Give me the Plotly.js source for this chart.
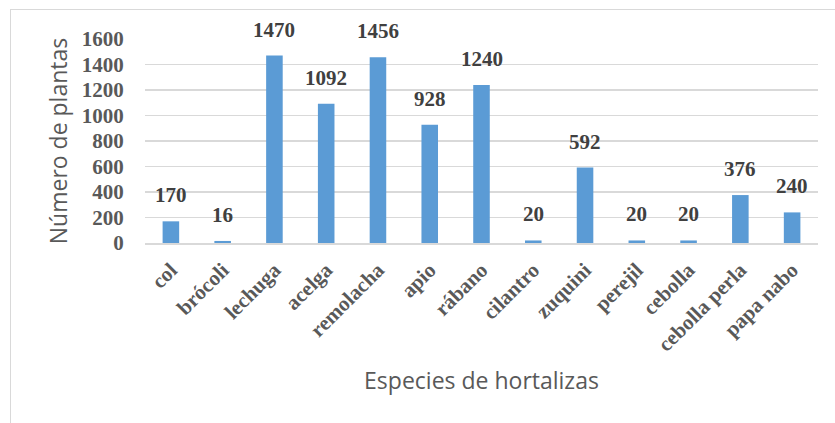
<!DOCTYPE html>
<html>
<head>
<meta charset="utf-8">
<script src="https://cdn.plot.ly/plotly-3.0.1.min.js"></script>
<style>
html,body{margin:0;padding:0;background:#fff;}
#wrap{position:relative;width:835px;height:423px;overflow:hidden;}
#frame{position:absolute;left:10px;top:9px;right:-5px;bottom:-5px;border-top:1.5px solid #d9d9d9;border-left:1.5px solid #d9d9d9;pointer-events:none;z-index:5;}
#chart{position:absolute;left:0;top:0;width:835px;height:423px;}
</style>
</head>
<body>
<div id="wrap">
<div id="chart"></div>
<div id="frame"></div>
</div>
<script>
var categories = ["col", "brócoli", "lechuga", "acelga", "remolacha", "apio", "rábano", "cilantro", "zuquini", "perejil", "cebolla", "cebolla perla", "papa nabo"];
var plantas = [170, 16, 1470, 1092, 1456, 928, 1240, 20, 592, 20, 20, 376, 240];
var yTicks = [0, 200, 400, 600, 800, 1000, 1200, 1400, 1600];

var serif = "'Liberation Serif', 'Times New Roman', serif";
var sans = "'Open Sans', 'Liberation Sans', sans-serif";

var trace = {
  type: "bar",
  x: categories,
  y: plantas,
  marker: {color: "#5B9BD5"},
  hoverinfo: "x+y"
};

var annotations = categories.map(function(c, i) {
  return {
    x: c, y: plantas[i], xref: "x", yref: "y",
    text: String(plantas[i]),
    showarrow: false,
    yanchor: "bottom",
    yshift: 12,
    font: {family: serif, size: 21, color: "#404040", weight: "bold"}
  };
});

var layout = {
  width: 835, height: 423,
  margin: {l: 145, r: 17, t: 39, b: 180},
  paper_bgcolor: "#ffffff",
  plot_bgcolor: "#ffffff",
  showlegend: false,
  bargap: 0.68,
  xaxis: {
    type: "category",
    tickangle: -45,
    ticks: "outside", ticklen: 5, tickcolor: "rgba(0,0,0,0)",
    tickfont: {family: serif, size: 21, color: "#595959", weight: "bold"},
    showline: true, linecolor: "#d9d9d9", linewidth: 1.5,
    showgrid: false,
    automargin: false,
    title: {text: "Especies de hortalizas", font: {family: sans, size: 23, color: "#595959"}, standoff: 17}
  },
  yaxis: {
    range: [0, 1600],
    tickvals: yTicks,
    ticktext: yTicks.map(String),
    ticks: "outside", ticklen: 16, tickcolor: "rgba(0,0,0,0)",
    tickfont: {family: serif, size: 21, color: "#595959", weight: "bold"},
    showgrid: true, gridcolor: "#d9d9d9", gridwidth: 1.5,
    zeroline: false,
    showline: false,
    automargin: false,
    title: {text: "Número de plantas", font: {family: sans, size: 23, color: "#595959"}, standoff: 7}
  },
  annotations: annotations
};

Plotly.newPlot("chart", [trace], layout, {displayModeBar: false, staticPlot: true});
</script>
</body>
</html>
